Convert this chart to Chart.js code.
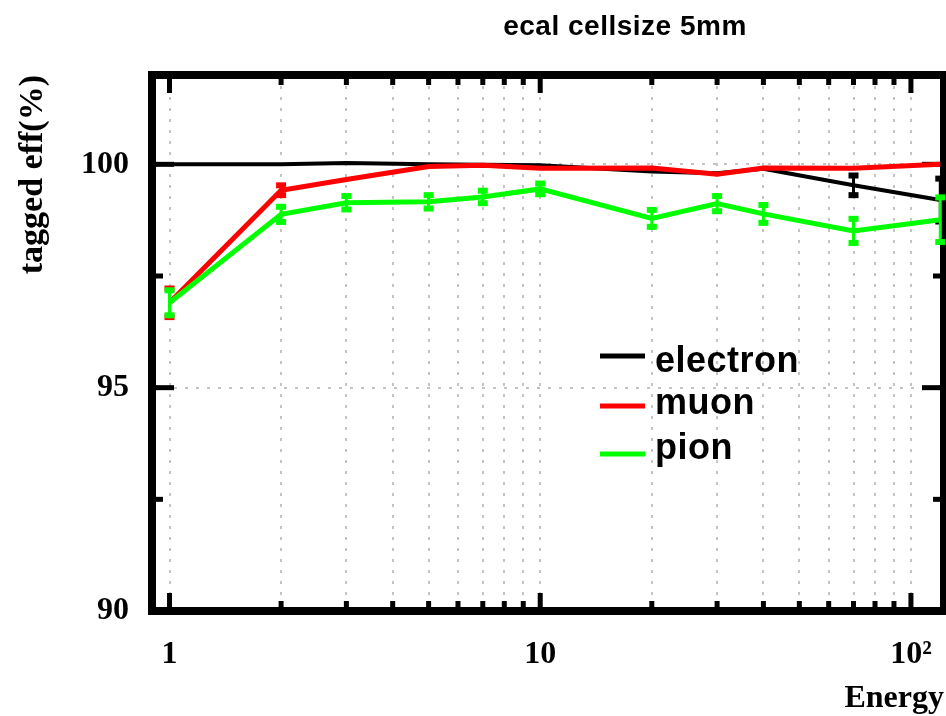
<!DOCTYPE html>
<html>
<head>
<meta charset="utf-8">
<title>ecal cellsize 5mm</title>
<script src="https://cdn.jsdelivr.net/npm/chart.js@4.4.1/dist/chart.umd.min.js"></script>
<style>
  html, body { margin: 0; padding: 0; background: #fff; }
  #wrap { width: 946px; height: 716px; }
</style>
</head>
<body>
<div id="wrap"><canvas id="chart" width="946" height="716"></canvas></div>
<script>
'use strict'

// data (energy in GeV, efficiency in %)
const energies = [1, 2, 3, 5, 7, 10, 20, 30, 40, 70, 120];
const electronEff = [100.0, 100.0, 100.03, 100.0, 99.99, 99.98, 99.84, 99.8, 99.9, 99.53, 99.2];
const electronErr = [0.01, 0.01, 0.01, 0.01, 0.01, 0.02, 0.04, 0.05, 0.04, 0.22, 0.48];
const muonEff = [96.9, 99.42, 99.66, 99.95, 99.98, 99.91, 99.92, 99.78, 99.92, 99.91, 100.0];
const muonErr = [0.32, 0.11, 0.05, 0.03, 0.02, 0.03, 0.03, 0.05, 0.03, 0.04, 0.02];
const pionEff = [96.9, 98.88, 99.14, 99.16, 99.27, 99.45, 98.79, 99.12, 98.89, 98.51, 98.76];
const pionErr = [0.28, 0.17, 0.15, 0.15, 0.14, 0.12, 0.19, 0.17, 0.2, 0.27, 0.5];

const seriesNames = ['electron', 'muon', 'pion'];
const seriesColors = ['#000000', '#ff0000', '#00ff00'];

const xTickValues = [1, 2, 3, 4, 5, 6, 7, 8, 9, 10, 20, 30, 40, 50, 60, 70, 80, 90, 100];
const xMajorTicks = [1, 10, 100];
const xTickLabels = {1: '1', 10: '10', 100: '10\u00B2'};
const yTickValues = [90, 92.5, 95, 97.5, 100];
const yTickLabels = {90: '90', 95: '95', 100: '100'};

const serif = "'Liberation Serif', 'DejaVu Serif', serif";
const sans = "'Liberation Sans', Arial, sans-serif";

// frame + inward ticks on all four sides
const framePlugin = {
    id: 'frame',
    beforeDatasetsDraw(chart){
        const {ctx, chartArea: a, scales: {x, y}} = chart;
        ctx.save();
        ctx.fillStyle = '#000';
        for (let v of xTickValues){
            let px = x.getPixelForValue(v);
            let len = xMajorTicks.includes(v) ? 14 : 6;
            ctx.fillRect(px - 2.5, a.bottom - 4 - len, 5, len);
            ctx.fillRect(px - 2.5, a.top + 4, 5, len);
        }
        for (let v of yTickValues){
            let py = y.getPixelForValue(v);
            let len = (v % 5 === 0) ? 18 : 7;
            ctx.fillRect(a.left + 4, py - 2.5, len, 5);
            ctx.fillRect(a.right - 4 - len, py - 2.5, len, 5);
        }
        ctx.strokeStyle = '#000';
        ctx.lineWidth = 8;
        ctx.strokeRect(a.left, a.top, a.right - a.left, a.bottom - a.top);
        ctx.restore();
    }
};

// vertical error bars with end caps, drawn just before each graph line
const errorBarPlugin = {
    id: 'errorBars',
    beforeDatasetDraw(chart, args){
        const ds = chart.data.datasets[args.index];
        if (!ds.errors) return;
        const {ctx, scales: {x, y}} = chart;
        ctx.save();
        ctx.fillStyle = ds.borderColor;
        for (let i = 0; i < ds.data.length; i++){
            let px = x.getPixelForValue(ds.data[i].x);
            let top = y.getPixelForValue(ds.data[i].y + ds.errors[i]);
            let bot = y.getPixelForValue(ds.data[i].y - ds.errors[i]);
            if (bot - top < 8) continue;
            ctx.fillRect(px - 1.5, top, 3, bot - top);
            ctx.fillRect(px - 5, top - 3, 10, 6);
            ctx.fillRect(px - 5, bot - 3, 10, 6);
        }
        ctx.restore();
    }
};

// title and legend box inside the frame
const textPlugin = {
    id: 'texts',
    afterDraw(chart){
        const {ctx} = chart;
        ctx.save();
        ctx.fillStyle = '#000';
        ctx.font = 'bold 28px ' + sans;
        ctx.letterSpacing = '0.5px';
        ctx.textAlign = 'center';
        ctx.textBaseline = 'alphabetic';
        ctx.fillText('ecal cellsize 5mm', 625, 35);

        const lineY = [356, 406, 454];
        const textY = [372, 414, 459];
        ctx.font = 'bold 36px ' + sans;
        ctx.textAlign = 'left';
        for (let i = 0; i < seriesNames.length; i++){
            ctx.fillStyle = seriesColors[i];
            ctx.fillRect(600, lineY[i] - 2.5, 45, 5);
            ctx.fillStyle = '#000';
            ctx.fillText(seriesNames[i], 655, textY[i]);
        }
        ctx.restore();
    }
};

function makeDataset(i, values, errors, width, order){
    return {
        label: seriesNames[i],
        data: energies.map((e, j) => ({x: e, y: values[j]})),
        errors: errors,
        borderColor: seriesColors[i],
        backgroundColor: seriesColors[i],
        borderWidth: width,
        pointRadius: 0,
        tension: 0,
        fill: false,
        order: order
    };
}

const gridColor = '#c4c4c4';

new Chart(document.getElementById('chart'), {
    type: 'line',
    data: {
        datasets: [
            makeDataset(0, electronEff, electronErr, 4, 3),
            makeDataset(1, muonEff, muonErr, 5, 2),
            makeDataset(2, pionEff, pionErr, 5, 1)
        ]
    },
    options: {
        responsive: false,
        animation: false,
        devicePixelRatio: 1,
        layout: {padding: {top: 75, right: 2, left: 0, bottom: 0}},
        plugins: {
            legend: {display: false},
            tooltip: {enabled: false},
            title: {display: false}
        },
        scales: {
            x: {
                type: 'logarithmic',
                min: 0.897,
                max: 122.8,
                afterBuildTicks: (s) => { s.ticks = xTickValues.map(v => ({value: v})); },
                afterFit: (s) => { s.height = 105; s.paddingLeft = 0; s.paddingRight = 0; },
                grid: {color: gridColor, lineWidth: 2, drawTicks: false},
                border: {display: false, dash: [3, 8]},
                ticks: {
                    autoSkip: false,
                    maxRotation: 0,
                    padding: 25,
                    color: '#000',
                    font: {family: serif, weight: 'bold', size: 32},
                    callback: (v) => xTickLabels[v] || ''
                },
                title: {
                    display: true,
                    text: 'Energy',
                    align: 'end',
                    color: '#000',
                    font: {family: serif, weight: 'bold', size: 32, lineHeight: 1},
                    padding: {top: 0, bottom: 1}
                }
            },
            y: {
                min: 90,
                max: 102,
                afterBuildTicks: (s) => { s.ticks = yTickValues.map(v => ({value: v})); },
                afterFit: (s) => { s.width = 152; s.paddingTop = 0; s.paddingBottom = 0; },
                grid: {
                    color: (c) => (c.tick && c.tick.value % 5 === 0) ? gridColor : 'rgba(0,0,0,0)',
                    lineWidth: 2,
                    drawTicks: false
                },
                border: {display: false, dash: [3, 8]},
                ticks: {
                    padding: 23,
                    color: '#000',
                    font: {family: serif, weight: 'bold', size: 32},
                    callback: (v) => yTickLabels[v] || ''
                },
                title: {
                    display: true,
                    text: 'tagged eff(%)',
                    align: 'end',
                    color: '#000',
                    font: {family: serif, weight: 'bold', size: 34, lineHeight: 1},
                    padding: {top: 16, bottom: 0}
                }
            }
        }
    },
    plugins: [framePlugin, errorBarPlugin, textPlugin]
});
</script>
</body>
</html>
